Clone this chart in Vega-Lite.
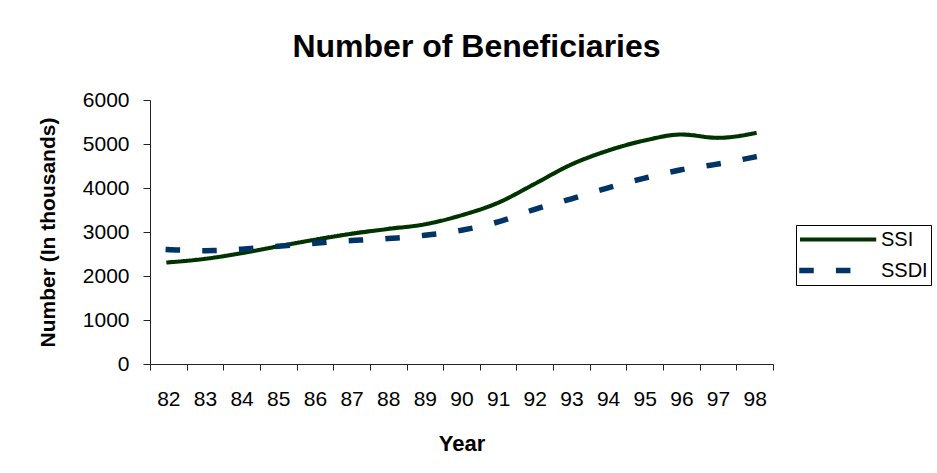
{
  "$schema": "https://vega.github.io/schema/vega-lite/v6.json",
  "width": 623,
  "height": 264,
  "autosize": "none",
  "padding": {"left": 150, "top": 100, "right": 164, "bottom": 109},
  "background": "white",
  "title": {
    "text": "Number of Beneficiaries",
    "font": "Liberation Sans",
    "fontSize": 32,
    "fontWeight": "bold",
    "color": "#000000",
    "anchor": "middle",
    "dx": 15,
    "offset": 25
  },
  "data": {
    "values": [
      {"year": "82", "series": "SSI", "value": 2310},
      {"year": "83", "series": "SSI", "value": 2390},
      {"year": "84", "series": "SSI", "value": 2520},
      {"year": "85", "series": "SSI", "value": 2675},
      {"year": "86", "series": "SSI", "value": 2825},
      {"year": "87", "series": "SSI", "value": 2960},
      {"year": "88", "series": "SSI", "value": 3070},
      {"year": "89", "series": "SSI", "value": 3175},
      {"year": "90", "series": "SSI", "value": 3380},
      {"year": "91", "series": "SSI", "value": 3665},
      {"year": "92", "series": "SSI", "value": 4095},
      {"year": "93", "series": "SSI", "value": 4535},
      {"year": "94", "series": "SSI", "value": 4850},
      {"year": "95", "series": "SSI", "value": 5080},
      {"year": "96", "series": "SSI", "value": 5215},
      {"year": "97", "series": "SSI", "value": 5140},
      {"year": "98", "series": "SSI", "value": 5245},
      {"year": "82", "series": "SSDI", "value": 2600},
      {"year": "83", "series": "SSDI", "value": 2575},
      {"year": "84", "series": "SSDI", "value": 2610},
      {"year": "85", "series": "SSDI", "value": 2675},
      {"year": "86", "series": "SSDI", "value": 2745},
      {"year": "87", "series": "SSDI", "value": 2805},
      {"year": "88", "series": "SSDI", "value": 2850},
      {"year": "89", "series": "SSDI", "value": 2925},
      {"year": "90", "series": "SSDI", "value": 3040},
      {"year": "91", "series": "SSDI", "value": 3230},
      {"year": "92", "series": "SSDI", "value": 3515},
      {"year": "93", "series": "SSDI", "value": 3755},
      {"year": "94", "series": "SSDI", "value": 4005},
      {"year": "95", "series": "SSDI", "value": 4225},
      {"year": "96", "series": "SSDI", "value": 4415},
      {"year": "97", "series": "SSDI", "value": 4545},
      {"year": "98", "series": "SSDI", "value": 4705}
    ]
  },
  "mark": {"type": "line", "interpolate": "monotone", "strokeCap": "square"},
  "encoding": {
    "x": {
      "field": "year",
      "type": "ordinal",
      "scale": {"type": "band", "paddingInner": 0, "paddingOuter": 0},
      "axis": {
        "title": "Year",
        "labelAngle": 0,
        "tickBand": "extent",
        "tickSize": 6,
        "labelPadding": 18,
        "titlePadding": 24,
        "titleFontSize": 22
      }
    },
    "y": {
      "field": "value",
      "type": "quantitative",
      "scale": {"domain": [0, 6000], "nice": false},
      "axis": {
        "title": "Number (In thousands)",
        "values": [0, 1000, 2000, 3000, 4000, 5000, 6000],
        "format": "d",
        "grid": false,
        "tickSize": 7,
        "labelPadding": 14,
        "titlePadding": 24,
        "titleFontSize": 21
      }
    },
    "color": {
      "field": "series",
      "type": "nominal",
      "scale": {"domain": ["SSI", "SSDI"], "range": ["#003300", "#003366"]},
      "legend": {
        "title": null,
        "orient": "none",
        "legendX": 646,
        "legendY": 125,
        "strokeColor": "#000000",
        "padding": 3,
        "symbolType": "M-1,0H6.6",
        "symbolSize": 361,
        "labelFont": "Liberation Sans",
        "labelFontSize": 20,
        "labelColor": "#000000",
        "labelOffset": 57,
        "rowPadding": 8,
        "encode": {"symbols": {"update": {"strokeCap": {"value": "square"}}}}
      }
    },
    "strokeDash": {
      "field": "series",
      "type": "nominal",
      "scale": {"domain": ["SSI", "SSDI"], "range": [[1, 0], [9, 27.7]]}
    },
    "strokeWidth": {
      "field": "series",
      "type": "nominal",
      "scale": {"domain": ["SSI", "SSDI"], "range": [4, 5.5]}
    }
  },
  "config": {
    "view": {"stroke": null},
    "axis": {
      "domainColor": "#222222",
      "tickColor": "#222222",
      "domainWidth": 1,
      "tickWidth": 1,
      "labelFont": "Liberation Sans",
      "labelFontSize": 21,
      "labelColor": "#000000",
      "titleFont": "Liberation Sans",
      "titleFontSize": 20,
      "titleFontWeight": "bold",
      "titleColor": "#000000"
    }
  }
}
